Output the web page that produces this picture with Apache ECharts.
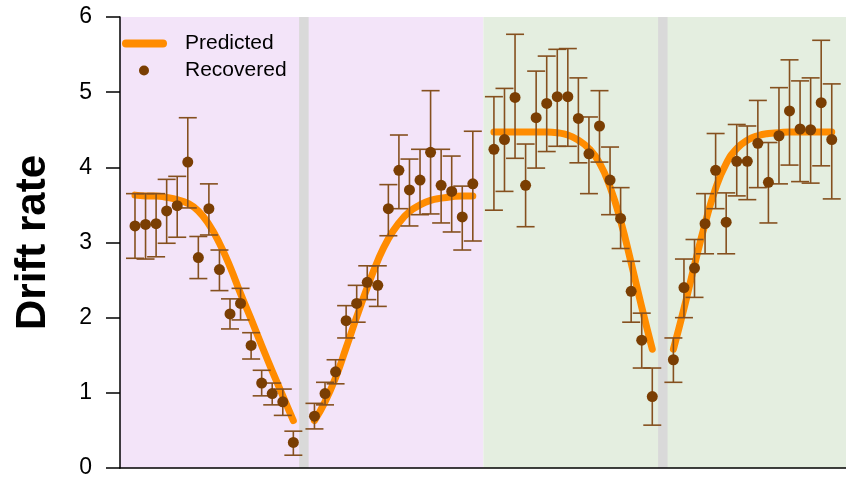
<!DOCTYPE html>
<html>
<head>
<meta charset="utf-8">
<script src="https://cdn.jsdelivr.net/npm/echarts@6/dist/echarts.min.js"></script>
<style>html,body{margin:0;padding:0;background:#fff}#c{width:846px;height:485px}</style>
</head>
<body>
<div id="c"></div>
<script>
// ---- data ----
const seg1Trial = [0,1,2,3,4,5,6,7,8,9,10,11,12,13,14,15];
const seg2Trial = [17,18,19,20,21,22,23,24,25,26,27,28,29,30,31,32];
const seg3Trial = [34,35,36,37,38,39,40,41,42,43,44,45,46,47,48,49];
const seg4Trial = [51,52,53,54,55,56,57,58,59,60,61,62,63,64,65,66];

const seg1Pred = [3.63,3.62,3.62,3.60,3.57,3.52,3.42,3.24,2.99,2.68,2.32,1.98,1.63,1.29,0.96,0.63];
const seg2Pred = [0.63,0.88,1.20,1.60,2.01,2.40,2.76,3.05,3.26,3.41,3.50,3.56,3.59,3.61,3.62,3.62];
const seg3Pred = [4.47,4.47,4.47,4.47,4.47,4.47,4.46,4.43,4.36,4.25,4.06,3.74,3.29,2.73,2.14,1.58];
const seg4Pred = [1.58,2.12,2.70,3.25,3.72,4.05,4.25,4.36,4.42,4.45,4.46,4.47,4.47,4.47,4.47,4.47];

const seg1Rec  = [3.22,3.24,3.25,3.42,3.49,4.07,2.80,3.45,2.64,2.05,2.19,1.63,1.13,0.99,0.88,0.34];
const seg1Low  = [2.79,2.78,2.81,2.99,3.07,3.46,2.52,3.10,2.36,1.85,1.97,1.45,0.96,0.84,0.70,0.17];
const seg1High = [3.65,3.65,3.65,3.84,3.88,4.66,3.08,3.78,2.90,2.25,2.39,1.80,1.30,1.13,1.05,0.49];

const seg2Rec  = [0.69,0.99,1.28,1.96,2.19,2.47,2.43,3.45,3.96,3.70,3.83,4.20,3.76,3.68,3.34,3.78];
const seg2Low  = [0.52,0.84,1.12,1.73,1.94,2.24,2.15,3.09,3.45,3.22,3.37,3.38,3.26,3.14,2.90,3.02];
const seg2High = [0.86,1.14,1.44,2.16,2.43,2.69,2.69,3.77,4.43,4.11,4.24,5.02,4.24,4.15,3.75,4.48];

const seg3Rec  = [4.24,4.37,4.93,3.76,4.66,4.85,4.94,4.94,4.65,4.18,4.55,3.83,3.32,2.35,1.70,0.95];
const seg3Low  = [3.43,3.68,4.12,3.21,3.99,4.21,4.28,4.28,4.06,3.65,4.07,3.37,2.92,1.94,1.33,0.57];
const seg3High = [4.94,5.05,5.77,4.31,5.28,5.48,5.57,5.58,5.19,4.67,5.02,4.27,3.73,2.75,2.06,1.33];

const seg4Rec  = [1.44,2.40,2.66,3.25,3.96,3.27,4.08,4.08,4.32,3.80,4.42,4.75,4.51,4.50,4.86,4.37];
const seg4Low  = [1.14,2.00,2.27,2.85,3.45,2.85,3.62,3.57,3.73,3.26,3.78,4.03,3.81,3.79,4.02,3.58];
const seg4High = [1.73,2.78,3.04,3.65,4.45,3.66,4.57,4.55,4.89,4.33,5.06,5.43,5.15,5.19,5.69,5.11];

const phaseBounds = [-1.42, 33, 67.35];
const breakTrials = [16, 50];
const yTicks = [0,1,2,3,4,5,6];

// ---- build ----
const FONT = '"Liberation Sans", Arial, Helvetica, sans-serif';
const ORANGE = '#ff8c00';
const BROWN = '#7a3e03';
const BAR = '#85501f';
const PHASE_COLORS = ['#f3e4f9', '#e4eee0'];
const BREAK_COLOR = '#d9d9d9';
const BREAK_HALF = 0.45;

const segs = [
  [seg1Trial, seg1Pred, seg1Rec, seg1Low, seg1High],
  [seg2Trial, seg2Pred, seg2Rec, seg2Low, seg2High],
  [seg3Trial, seg3Pred, seg3Rec, seg3Low, seg3High],
  [seg4Trial, seg4Pred, seg4Rec, seg4Low, seg4High]
];

const bgData = [];
for (let i = 0; i < phaseBounds.length - 1; i++) bgData.push([phaseBounds[i], phaseBounds[i+1], PHASE_COLORS[i]]);
breakTrials.forEach(b => bgData.push([b - BREAK_HALF, b + BREAK_HALF, BREAK_COLOR]));

const series = [];
series.push({
  type: 'custom', name: 'bg', silent: true, z: 0, clip: true,
  data: bgData.map(d => [d[0], d[1]]),
  renderItem: function (params, api) {
    const idx = params.dataIndex;
    const x0 = api.coord([api.value(0), 0])[0];
    const x1 = api.coord([api.value(1), 0])[0];
    const cs = params.coordSys;
    return {type: 'rect', shape: {x: x0, y: cs.y, width: x1 - x0, height: cs.height},
            style: {fill: bgData[idx][2]}};
  }
});

const errData = [], ptData = [];
segs.forEach(([t, pred, rec, lo, hi]) => {
  series.push({
    type: 'line', name: 'Predicted', smooth: 0.5, showSymbol: false, z: 2,
    data: t.map((x, i) => [x, pred[i]]),
    lineStyle: {color: ORANGE, width: 7, cap: 'round', join: 'round'},
    itemStyle: {color: ORANGE},
    silent: true
  });
  t.forEach((x, i) => { errData.push([x, lo[i], hi[i]]); ptData.push([x, rec[i]]); });
});

series.push({
  type: 'custom', name: 'err', z: 3, silent: true,
  data: errData,
  renderItem: function (params, api) {
    const x = api.value(0);
    const a = api.coord([x, api.value(1)]);
    const b = api.coord([x, api.value(2)]);
    const w = 9;
    const st = {stroke: BAR, lineWidth: 1.6};
    return {type: 'group', children: [
      {type: 'line', shape: {x1: a[0], y1: a[1], x2: b[0], y2: b[1]}, style: st},
      {type: 'line', shape: {x1: a[0]-w, y1: a[1], x2: a[0]+w, y2: a[1]}, style: st},
      {type: 'line', shape: {x1: b[0]-w, y1: b[1], x2: b[0]+w, y2: b[1]}, style: st}
    ]};
  }
});
series.push({
  type: 'scatter', name: 'Recovered', z: 4, symbolSize: 11,
  data: ptData, itemStyle: {color: BROWN, opacity: 1}, silent: true
});

const chart = echarts.init(document.getElementById('c'), null, {renderer: 'canvas'});
chart.setOption({
  animation: false,
  textStyle: {fontFamily: FONT},
  grid: {left: 120, right: 0, top: 17, bottom: 17},
  legend: [
    {data: ['Predicted'], left: 122, top: 33, padding: 0, itemWidth: 45, itemHeight: 8,
     icon: 'path://M4,0 L41,0 A4,4 0 0 1 41,8 L4,8 A4,4 0 0 1 4,0 Z',
     textStyle: {fontSize: 21, color: '#000', fontFamily: FONT, padding: [0,0,0,13]}},
    {data: ['Recovered'], left: 139, top: 60, padding: 0, itemWidth: 10, itemHeight: 10,
     icon: 'circle',
     textStyle: {fontSize: 21, color: '#000', fontFamily: FONT, padding: [0,0,0,31]}}
  ],
  xAxis: {
    type: 'value', min: phaseBounds[0], max: phaseBounds[2], z: 10,
    axisLine: {show: true, onZero: false, lineStyle: {color: '#000', width: 1.5}},
    axisTick: {show: false}, axisLabel: {show: false}, splitLine: {show: false}
  },
  yAxis: {
    type: 'value', min: yTicks[0], max: yTicks[yTicks.length-1], interval: 1, z: 10,
    name: 'Drift rate', nameLocation: 'middle', nameGap: 66, nameRotate: 90,
    nameTextStyle: {fontSize: 42, fontWeight: 'bold', color: '#000', fontFamily: FONT},
    axisLine: {show: true, onZero: false, lineStyle: {color: '#000', width: 1.5}},
    axisTick: {show: true, length: 14, lineStyle: {color: '#000', width: 1.5}},
    axisLabel: {fontSize: 23, color: '#000', margin: 28, fontFamily: FONT},
    splitLine: {show: false}
  },
  series: series
});
</script>
</body>
</html>
